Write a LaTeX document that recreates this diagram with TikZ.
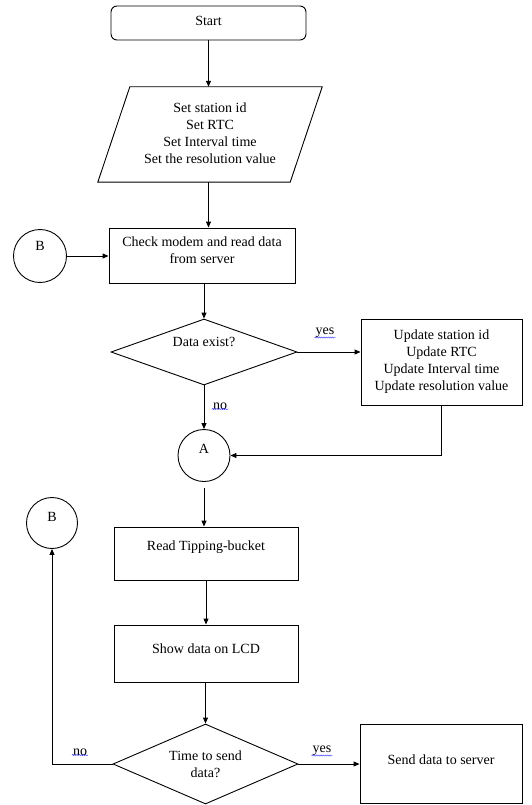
\documentclass[tikz,border=0pt]{standalone}
\usepackage{fontspec}
\setmainfont{Liberation Serif}
\usetikzlibrary{arrows.meta,shapes.geometric,calc,decorations.pathmorphing}
\begin{document}
\begin{tikzpicture}[x=1pt,y=-1pt,
  every node/.style={font=\fontsize{14}{17}\selectfont},
  box/.style={draw, line width=0.9pt, inner sep=0pt},
  circ/.style={draw, circle, line width=0.9pt, inner sep=0pt},
  dia/.style={draw, diamond, line width=0.9pt, inner sep=0pt, aspect=2.8},
  txt/.style={align=center, inner sep=0pt},
  lbl/.style={inner sep=1pt},
  arr/.style={line width=0.9pt, -{Triangle[length=6pt,width=5pt]}},
  ln/.style={line width=0.9pt},
  squig/.style={draw=blue!80!white, line width=0.4pt, decorate,
    decoration={snake, amplitude=0.6pt, segment length=2.2pt}}
]
\useasboundingbox (0,0) rectangle (531,805);

% nodes
\node[box, rounded corners=6pt, minimum width=195pt, minimum height=34pt] (start) at (208.5,23) {};
\node[txt] (startt) at (208.5,21) {Start};

\node[minimum width=224pt, minimum height=95pt, inner sep=0pt] (par) at (210,134.5) {};
\draw[ln] ($(par.north west)+(32,0)$) -- (par.north east) -- ($(par.south east)+(-32,0)$) -- (par.south west) -- cycle;
\node[txt] (part) at (210,133) {Set station id\\Set RTC\\Set Interval time\\Set the resolution value};

\node[box, minimum width=186pt, minimum height=55pt] (check) at (202,255.5) {};
\node[txt] (checkt) at (202,250.5) {Check modem and read data\\from server};

\node[circ, minimum size=53pt] (b1) at (40,256) {};
\node[txt] (b1t) at (40,246) {B};

\node[dia, minimum width=186pt, minimum height=66pt] (d1) at (204,352) {};
\node[txt] (d1t) at (204,342) {Data exist?};

\node[box, minimum width=161pt, minimum height=86pt] (upd) at (441.5,362) {};
\node[txt] (updt) at (441.5,362) {Update station id\\Update RTC\\Update Interval time\\Update resolution value};

\node[circ, minimum size=52pt] (a) at (204,455.5) {};
\node[txt] (at) at (204,449) {A};

\node[box, minimum width=184pt, minimum height=53pt] (read) at (206,553.5) {};
\node[txt] (readt) at (206,547) {Read Tipping-bucket};

\node[circ, minimum size=51pt] (b2) at (52,523) {};
\node[txt] (b2t) at (52,517) {B};

\node[box, minimum width=184pt, minimum height=57pt] (show) at (206,653.5) {};
\node[txt] (showt) at (206,649) {Show data on LCD};

\node[dia, minimum width=185pt, minimum height=80pt] (d2) at (205.5,764) {};
\node[txt] (d2t) at (205.5,764) {Time to send\\data?};

\node[box, minimum width=162pt, minimum height=79pt] (send) at (441,763.5) {};
\node[txt] (sendt) at (441,760) {Send data to server};

% connectors
\draw[arr] (start.south) -- (start.south |- par.north);
\draw[arr] (start.south |- par.south) -- (start.south |- check.north);
\draw[arr] (b1.east) -- (b1.east -| check.west);
\draw[arr] (d1.north |- check.south) -- (d1.north);
\draw[arr] (d1.east) -- (d1.east -| upd.west);
\draw[arr] (d1.south) -- (a.north);
\draw[arr] (upd.south) |- (a.east);
\draw[arr] ([yshift=-6pt]a.south) -- (a.south |- read.north);
\draw[arr] (read.south) -- (show.north);
\draw[arr] (d2.north |- show.south) -- (d2.north);
\draw[arr] (d2.west) -| (b2.south);
\draw[arr] (d2.east) -- (d2.east -| send.west);

% labels
\node[lbl] (yes1) at (325,333) {yes};
\node[lbl] (no1) at (220,406) {no};
\node[lbl] (no2) at (80,752) {no};
\node[lbl] (yes2) at (322,751) {yes};
\foreach \n in {yes1,no1,no2,yes2}{
  \draw[squig] ([yshift=1.5pt]\n.south west) -- ([yshift=1.5pt]\n.south east);
}
\end{tikzpicture}
\end{document}
